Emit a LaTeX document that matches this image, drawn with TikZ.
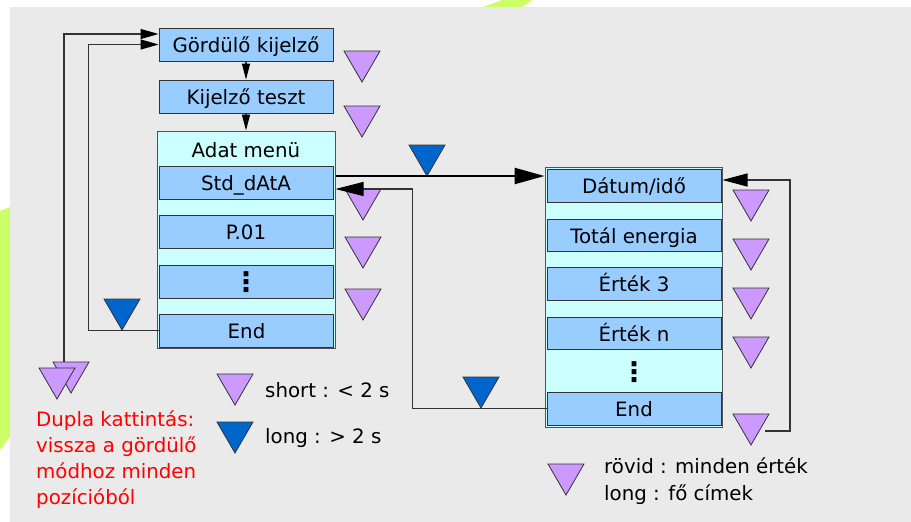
\documentclass[tikz,border=0pt]{standalone}
\usepackage{fontspec}
\setmainfont{DejaVu Sans}
\usetikzlibrary{arrows.meta,calc}
\definecolor{bg}{HTML}{EAEAEA}
\definecolor{limec}{HTML}{CCFF66}
\definecolor{boxblue}{HTML}{99CCFF}
\definecolor{cyanbg}{HTML}{CCFFFF}
\definecolor{purp}{HTML}{CC99FF}
\definecolor{dblue}{HTML}{0066CC}
\definecolor{edge}{HTML}{333333}
\newcommand\mytri[3]{\filldraw[fill=#3, draw=edge, line width=0.8pt, line join=miter] ({#1-18},#2) -- ({#1+18},#2) -- (#1,{#2+31}) -- cycle;}
\newcommand\vdotsbig{{\fontsize{27}{27}\selectfont\bfseries ⋮}}
\begin{document}
\begin{tikzpicture}[x=1pt,y=-1pt,
  every node/.style={font=\fontsize{19.8}{23}\selectfont, inner sep=0pt},
  item/.style={draw=edge, line width=0.9pt, fill=boxblue, minimum width=174pt, minimum height=33pt, text height=16pt, text depth=0pt},
  group/.style={draw=edge!85, line width=1pt, fill=cyanbg},
  conn/.style={draw=edge, line width=1.1pt},
  tipc/.style={arrows={-{Triangle[#1,color=black]}}},
  small/.style={conn, tipc={length=18pt,width=10pt}},
  vert/.style={conn, tipc={length=16pt,width=8pt}},
  mainarrow/.style={draw=black, line width=2.5pt, tipc={length=30pt,width=16pt}},
  retarrow/.style={conn, tipc={length=28pt,width=14pt}},
  looparrow/.style={conn, tipc={length=25pt,width=13pt}},
  legend/.style={anchor=base west, text=black}
]
\useasboundingbox (0,0) rectangle (911,522);
\fill[white] (0,0) rectangle (911,522);
% lime decorations
\fill[limec] (0,211) -- (10,207) -- (10,437) -- (0,450) -- cycle;
\fill[limec] (483,7) -- (502,0) -- (532,0) -- (522,7) -- cycle;
% background
\fill[bg] (10,7) rectangle (911,522);

% left column
\node[item] (g) at (246,44.5) {Gördülő kijelző};
\node[item] (k) at (246,96.5) {Kijelző teszt};
\node[group, minimum width=178pt, minimum height=217pt] (am) at (246,239.5) {};
\node (amt) at (246,150) {Adat menü};
\node[item] (std) at (246,182.5) {Std\_dAtA};
\node[item] (p01) at (246,231.5) {P.01};
\node[item, text height=20pt] (d1) at (246,281.5) {\vdotsbig};
\node[item] (end1) at (246.5,330.5) {End};

% right column
\node[group, minimum width=177pt, minimum height=260pt] (rc) at (633.5,297) {};
\node[item] (dat) at (634,185.5) {Dátum/idő};
\node[item, minimum height=32pt] (tot) at (634,235) {Totál energia};
\node[item] (e3) at (634,283.5) {Érték 3};
\node[item, minimum height=32pt] (en) at (634,333) {Érték n};
\node[text height=20pt, text depth=0pt] (d2) at (634,371) {\vdotsbig};
\node[item] (end2) at (634,408.5) {End};

% triangles
\mytri{362}{51}{purp}
\mytri{362}{106}{purp}
\mytri{363}{189}{purp}
\mytri{363}{237}{purp}
\mytri{363}{289}{purp}
\mytri{427}{145}{dblue}
\mytri{122}{299}{dblue}
\mytri{481}{377}{dblue}
\mytri{751}{190}{purp}
\mytri{751}{239}{purp}
\mytri{751}{288}{purp}
\mytri{751}{337}{purp}
\mytri{751}{414}{purp}
\mytri{71}{362}{purp}
\mytri{57}{368}{purp}
\mytri{235}{374}{purp}
\mytri{235}{422}{dblue}
\mytri{566}{464}{purp}

% connectors
\coordinate (lo) at (64,362);
\coordinate (rl) at (765,431);
\draw[vert] (g) -- (k);
\draw[vert] (k) -- (am);
\draw[small] (lo) |- ([yshift=10.5pt]g.west);
\draw[small] (end1.west) -- ++(-71,0) |- (g.west);
\draw[mainarrow] ([yshift=6.5pt]am.east |- std.east) -- ([yshift=6.5pt]std.east -| rc.west);
\draw[retarrow] (end2.west) -- ++(-134,0) |- ([yshift=-6.5pt]std.east -| am.east);
\draw[looparrow] (rl) -- ++(25,0) |- ([yshift=5.5pt]dat.east -| rc.east);

% legends and notes
\node[anchor=north west, align=left, text=red, font=\fontsize{19.8}{26.3}\selectfont] (note) at (36,410) {Dupla kattintás:\\vissza a gördülő\\módhoz minden\\pozícióból};
\node[legend] (ls) at (265,397) {short : < 2 s};
\node[legend] (ll) at (265,443) {long : > 2 s};
\node[legend] (lr1) at (604,473) {rövid : minden érték};
\node[legend] (lr2) at (604,500) {long : fő címek};
\end{tikzpicture}
\end{document}
